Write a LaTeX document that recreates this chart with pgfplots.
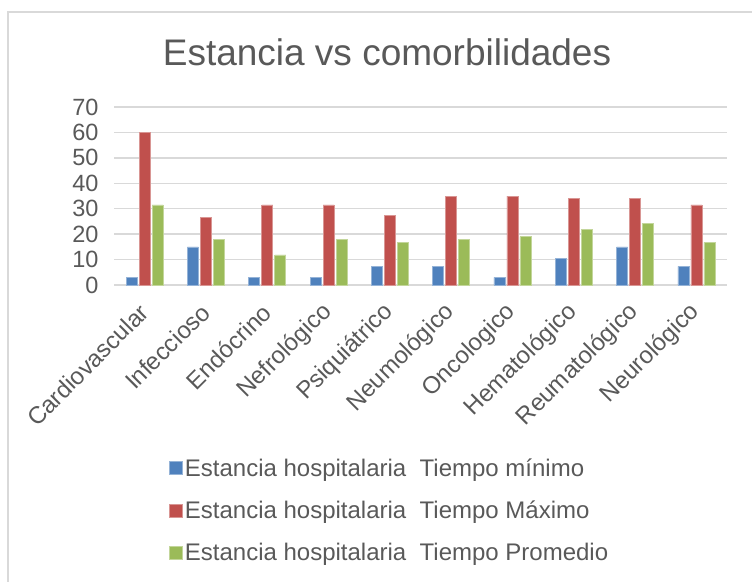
\documentclass[border=0pt]{standalone}
\usepackage{pgfplots}
\pgfplotsset{compat=1.18}
\usepackage{fontspec}
\setmainfont{Liberation Sans}
\definecolor{txt}{HTML}{595959}
\definecolor{gridc}{HTML}{D9D9D9}
\definecolor{cblue}{HTML}{4F81BD}
\definecolor{cred}{HTML}{C0504D}
\definecolor{cgreen}{HTML}{9BBB59}
\begin{document}
\begin{tikzpicture}[x=1pt,y=1pt]
\useasboundingbox (0,0) rectangle (752,581);
\draw[gridc, line width=1.5pt] (8,-10) rectangle (770,569);
\node[txt, font=\fontsize{37}{44}\selectfont] at (387,529) {Estancia vs comorbilidades};
\begin{axis}[
  at={(114pt,296pt)}, anchor=south west,
  scale only axis, width=613pt, height=178pt,
  ymin=0, ymax=70, ytick={0,10,...,70},
  xmin=-0.5, xmax=9.5, xtick={0,...,9},
  xticklabels={Cardiovascular,Infeccioso,Endócrino,Nefrológico,Psiquiátrico,Neumológico,Oncologico,Hematológico,Reumatológico,Neurológico},
  ybar=2pt, bar width=11pt,
  ymajorgrids, grid style={line width=1.5pt, gridc},
  axis line style={draw=none},
  major tick length=0pt,
  /pgf/number format/assume math mode=true,
  yticklabel style={font=\fontsize{23.5}{28}\selectfont, text=txt, xshift=-12pt},
  xticklabel style={font=\fontsize{24}{28}\selectfont, text=txt, xshift=2pt, yshift=-21pt, rotate=45, anchor=east},
  legend style={at={(0.085,-0.952)}, anchor=north west, draw=none, fill=none,
    font=\fontsize{24}{29}\selectfont, text=txt, row sep=19pt,
    /tikz/every even column/.append style={column sep=4pt}},
  legend cell align=left,
  legend image code/.code={\fill[#1] (0pt,-6.5pt) rectangle (13pt,6.5pt);},
]
\addplot[fill=cblue, draw=cblue!60!white, line width=0.6pt] coordinates {(0,3) (1,15) (2,3) (3,3) (4,7.3) (5,7.3) (6,3) (7,10.5) (8,15) (9,7.3)};
\addplot[fill=cred, draw=cred!60!white, line width=0.6pt] coordinates {(0,60) (1,26.5) (2,31.5) (3,31.5) (4,27.5) (5,35) (6,35) (7,34) (8,34) (9,31.5)};
\addplot[fill=cgreen, draw=cgreen!60!white, line width=0.6pt] coordinates {(0,31.5) (1,18) (2,11.8) (3,18) (4,16.8) (5,18) (6,19) (7,22) (8,24.3) (9,16.8)};
\legend{Estancia hospitalaria\ \ Tiempo mínimo, Estancia hospitalaria\ \ Tiempo Máximo, Estancia hospitalaria\ \ Tiempo Promedio}
\end{axis}
\end{tikzpicture}
\end{document}
